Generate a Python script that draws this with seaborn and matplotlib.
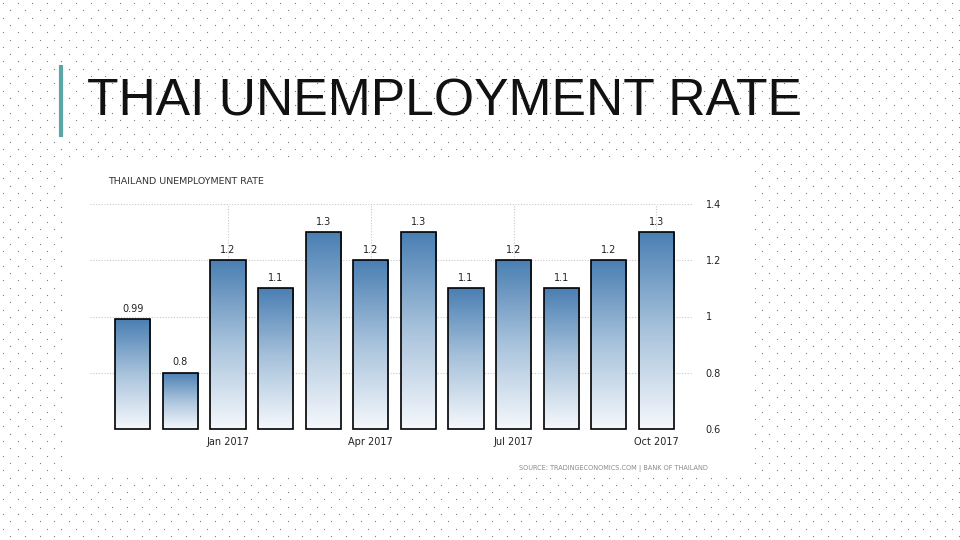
import numpy as np
import pandas as pd
import seaborn as sns
import matplotlib.pyplot as plt
from matplotlib.patches import Rectangle
from matplotlib.colors import LinearSegmentedColormap

# Data
months = ['Nov 2016', 'Dec 2016', 'Jan 2017', 'Feb 2017', 'Mar 2017', 'Apr 2017',
          'May 2017', 'Jun 2017', 'Jul 2017', 'Aug 2017', 'Sep 2017', 'Oct 2017']
rates = [0.99, 0.8, 1.2, 1.1, 1.3, 1.2, 1.3, 1.1, 1.2, 1.1, 1.2, 1.3]
shown_months = ['Jan 2017', 'Apr 2017', 'Jul 2017', 'Oct 2017']
y_ticks = [0.6, 0.8, 1.0, 1.2, 1.4]
y_labels = ['0.6', '0.8', '1', '1.2', '1.4']
base = 0.6

df = pd.DataFrame({'month': months, 'rate': rates})

sns.set_style('white')
plt.rcParams['font.family'] = ['DejaVu Sans']

fig = plt.figure(figsize=(9.6, 5.4), dpi=100)
W, H = 960, 540

# slide background with dot pattern
bg = fig.add_axes([0, 0, 1, 1])
bg.set_xlim(0, W)
bg.set_ylim(H, 0)
bg.axis('off')
gy = np.arange(3, H, 7.3)
pts = []
for k, yy in enumerate(gy):
    xs = np.arange(3 + (k % 2) * 7.3, W, 14.6)
    pts.append(np.column_stack([xs, np.full_like(xs, yy)]))
pts = np.vstack(pts)
bg.scatter(pts[:, 0], pts[:, 1], s=0.8, color='#7a7a7a', linewidths=0)

# white chart panel
bg.add_patch(Rectangle((68, 160), 682, 318, facecolor='white', edgecolor='none', zorder=2))
# teal accent bar and slide title
bg.plot([61, 61], [65, 137], color='#5ba6a6', lw=3, solid_capstyle='butt', zorder=3)
bg.text(87, 102, 'THAI UNEMPLOYMENT RATE', fontsize=37.2, family='Liberation Sans',
        color='#111111', va='center', ha='left', zorder=3)
bg.text(108, 181, 'THAILAND UNEMPLOYMENT RATE', fontsize=6.8, color='#333333',
        va='center', ha='left', zorder=3)
bg.text(519, 468, 'SOURCE: TRADINGECONOMICS.COM | BANK OF THAILAND', fontsize=4.7,
        color='#8a8a8a', va='center', ha='left', zorder=3)

# chart area
ax = fig.add_axes([90 / W, 1 - 429 / H, (693 - 90) / W, (429 - 204) / H])
ax.set_facecolor('none')
sns.barplot(data=df, x='month', y='rate', ax=ax, color='white', width=0.74,
            edgecolor='black', linewidth=1.2, zorder=3)

cmap = LinearSegmentedColormap.from_list('tegrad', ['#f5f8fc', '#a9c3dc', '#4a7fb3'])
grad = np.linspace(0, 1, 256).reshape(-1, 1)
for p in ax.patches:
    x0 = p.get_x()
    x1 = x0 + p.get_width()
    top = p.get_height()
    # bars start at the axis floor, as in the original widget
    p.set_y(base)
    p.set_height(top - base)
    p.set_facecolor('none')
    p.set_clip_on(False)
    im = ax.imshow(grad, extent=[x0, x1, base, top], origin='lower', aspect='auto',
                   cmap=cmap, zorder=2.5)
    im.set_clip_path(p)
    ax.annotate(f'{top:g}', (x0 + p.get_width() / 2, top), xytext=(0, 4),
                textcoords='offset points', ha='center', va='bottom',
                fontsize=7, color='#222222')

ax.set_xlim(-0.9, 11.77)
ax.set_ylim(base, 1.4)
for s in ax.spines.values():
    s.set_visible(False)

idx = [months.index(m) for m in shown_months]
ax.set_xticks(idx)
ax.set_xticklabels(shown_months, fontsize=7, color='#222222')
ax.tick_params(axis='x', length=0, pad=6)
ax.set_yticks(y_ticks)
ax.set_yticklabels(y_labels, fontsize=7, color='#222222')
ax.yaxis.tick_right()
ax.tick_params(axis='y', length=0, pad=9)
ax.set_xlabel('')
ax.set_ylabel('')
for i in idx:
    ax.axvline(i, color='#c8c8c8', lw=0.8, ls=(0, (1, 1.5)), zorder=1)
for v in y_ticks:
    ax.axhline(v, color='#c8c8c8', lw=0.8, ls=(0, (1, 1.5)), zorder=1)

fig.savefig('out.png', dpi=100)
